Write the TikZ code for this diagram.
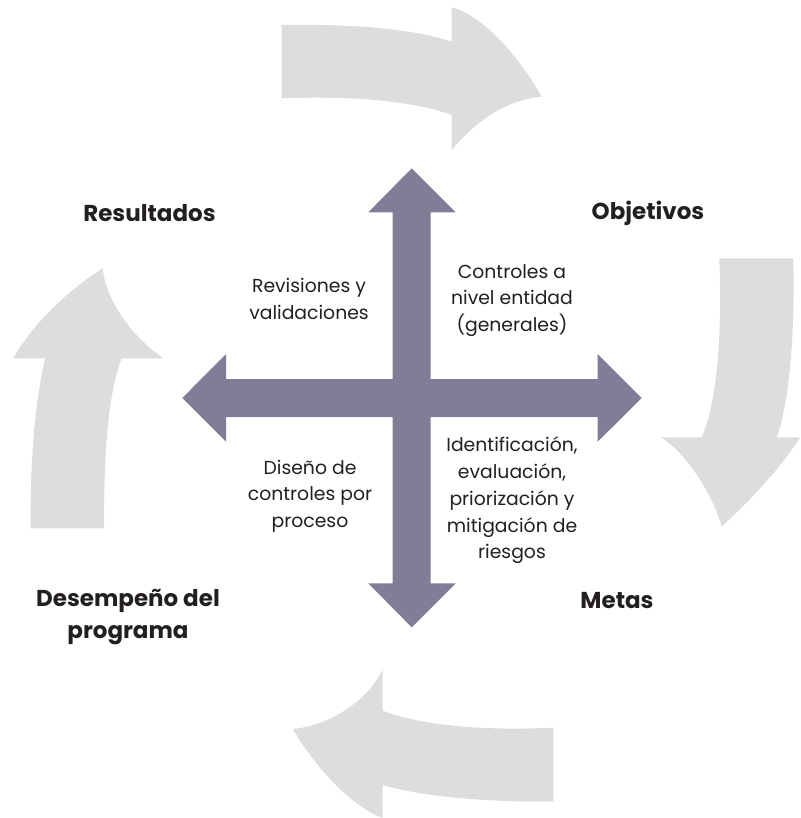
\documentclass[tikz,border=0pt]{standalone}
\usepackage{fontspec}
\setmainfont{Poppins}
\definecolor{crossc}{HTML}{827D96}
\definecolor{cyclec}{HTML}{DCDDDF}
\definecolor{txt}{HTML}{231F20}
\begin{document}
\begin{tikzpicture}[x=1pt,y=-1pt,
  cyclearrow/.style={fill=cyclec,draw=none},
  crossarrow/.style={fill=crossc,draw=none},
  lbl/.style={font=\fontsize{23}{32}\selectfont\bfseries,text=txt,align=center,inner sep=0pt},
  desc/.style={font=\fontsize{18.8}{26.7}\selectfont,text=txt,align=center,inner sep=0pt}]
\useasboundingbox (0,0) rectangle (800,818);
% cycle arrows
\fill[cyclearrow] (281.7,25) .. controls (350,24) and (410,28) .. (451.7,41.7)
  -- (451.7,7.3) .. controls (482,15) and (518,55) .. (541.7,96.7)
  .. controls (505,100) and (475,122) .. (451.7,150)
  -- (451.7,115) .. controls (410,100) and (350,96) .. (281.7,98.3) -- cycle;
\fill[cyclearrow] (719.3,258.3) .. controls (722,330) and (718,400) .. (701.7,437.3)
  -- (660.7,437.3) .. controls (690,455) and (716,503) .. (721.7,526.7)
  .. controls (745,505) and (780,470) .. (800,437.3)
  -- (776.7,437.3) .. controls (790,400) and (795,330) .. (793.3,258.3) -- cycle;
\fill[cyclearrow] (553.3,727.7) .. controls (480,731) and (420,725) .. (382.7,710.7)
  -- (382.7,669) .. controls (372,695) and (335,725) .. (292.7,729)
  .. controls (312,762) and (348,805) .. (382.7,818)
  -- (382.7,785) .. controls (420,796) and (480,802) .. (553.3,801.7) -- cycle;
\fill[cyclearrow] (30.7,528.3) .. controls (30,450) and (36,400) .. (45,358.3)
  -- (13.3,358.3) .. controls (30,328) and (65,292) .. (102.7,268.3)
  .. controls (106,300) and (130,335) .. (163.3,358.3)
  -- (121.7,358.3) .. controls (108,395) and (104,450) .. (104,528.3) -- cycle;
% cross
\fill[crossarrow] (392.7,379) -- (392.7,212.3) -- (368.3,212.3) -- (411.7,168.3) -- (455.7,212.3)
  -- (430.7,212.3) -- (430.7,379) -- (597.7,379) -- (597.7,354) -- (641.7,398) -- (597.7,441.7)
  -- (597.7,417) -- (430.7,417) -- (430.7,583.3) -- (455.7,583.3) -- (411.7,627.3)
  -- (368.3,583.3) -- (392.7,583.3) -- (392.7,417) -- (226,417) -- (226,441.7) -- (182.3,398)
  -- (226,354) -- (226,379) -- cycle;
% labels
\node[lbl] (res) at (149.5,213) {Resultados};
\node[lbl] (obj) at (648,213) {Objetivos};
\node[lbl] (met) at (617,601) {Metas};
\node[lbl] (des) at (128,617) {Desempeño del\\programa};
\node[desc] (rev) at (309,299) {Revisiones y\\validaciones};
\node[desc] (con) at (512,300.5) {Controles a\\nivel entidad\\(generales)};
\node[desc] (dis) at (310,496) {Diseño de\\controles por\\proceso};
\node[desc] (ide) at (512,500.5) {Identificación,\\evaluación,\\priorización y\\mitigación de\\riesgos};
\end{tikzpicture}
\end{document}
